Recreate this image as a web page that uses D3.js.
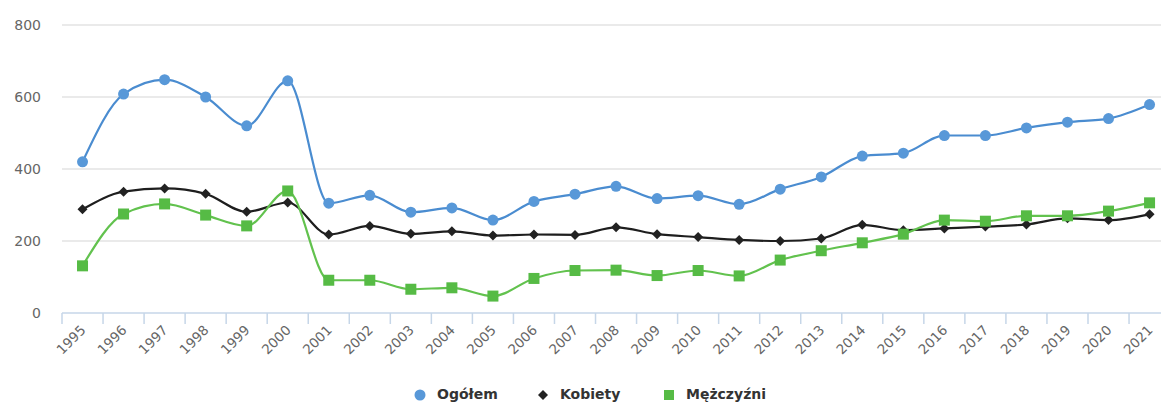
<!DOCTYPE html>
<html>
<head>
<meta charset="utf-8">
<script src="https://cdn.jsdelivr.net/npm/d3@7"></script>
<style>
  body { margin: 0; background: #fff; }
  text { font-family: "DejaVu Sans", sans-serif; }
</style>
</head>
<body>
<svg id="chart" width="1161" height="403"></svg>
<script>
var years = ["1995","1996","1997","1998","1999","2000","2001","2002","2003","2004","2005","2006","2007",
  "2008","2009","2010","2011","2012","2013","2014","2015","2016","2017","2018","2019","2020","2021"];
var ogolem = [420, 608, 648, 600, 520, 645, 305, 327, 280, 292, 258, 310, 330,
  352, 318, 326, 302, 344, 378, 436, 444, 493, 493, 514, 530, 540, 579];
var kobiety = [288, 337, 346, 331, 281, 307, 218, 242, 220, 227, 215, 218, 217,
  238, 219, 211, 203, 200, 207, 245, 230, 235, 240, 246, 263, 258, 274];
var mezczyzni = [131, 275, 303, 272, 242, 339, 91, 91, 66, 70, 47, 96, 118,
  119, 104, 118, 103, 147, 173, 195, 219, 258, 255, 270, 270, 283, 306];
var yTicks = [0, 200, 400, 600, 800];

var svg = d3.select("#chart");

var x = d3.scaleBand().domain(years).range([62, 62 + 27 * 41.04]).paddingInner(0).paddingOuter(0);
var y = d3.scaleLinear().domain([0, 800]).range([313, 25]);
function cx(d, i) { return x(years[i]) + x.bandwidth() / 2; }

// grid
svg.append("g").selectAll("line")
  .data(yTicks.filter(function(t) { return t > 0; }))
  .enter().append("line")
    .attr("x1", 62).attr("x2", 1161)
    .attr("y1", function(d) { return y(d); })
    .attr("y2", function(d) { return y(d); })
    .attr("stroke", "#e3e3e3").attr("stroke-width", 1.5);

// y labels
svg.append("g").selectAll("text")
  .data(yTicks)
  .enter().append("text")
    .attr("x", 41).attr("y", function(d) { return y(d) + 5; })
    .attr("text-anchor", "end")
    .attr("fill", "#666").attr("font-size", 14)
    .text(function(d) { return d; });

// x axis line and ticks between categories
svg.append("line")
  .attr("x1", 62).attr("x2", 1161).attr("y1", y(0)).attr("y2", y(0))
  .attr("stroke", "#c6d6e8").attr("stroke-width", 1.5);
svg.append("g").selectAll("line")
  .data(years.concat(["end"]))
  .enter().append("line")
    .attr("x1", function(d, i) { return i < years.length ? x(d) : x.range()[1]; })
    .attr("x2", function(d, i) { return i < years.length ? x(d) : x.range()[1]; })
    .attr("y1", y(0)).attr("y2", y(0) + 11)
    .attr("stroke", "#c6d6e8").attr("stroke-width", 1.5);

svg.append("g").selectAll("text")
  .data(years)
  .enter().append("text")
    .attr("transform", function(d, i) { return "translate(" + (cx(d, i) + 4) + "," + 331 + ") rotate(-45)"; })
    .attr("text-anchor", "end")
    .attr("fill", "#666").attr("font-size", 13.5)
    .text(function(d) { return d; });

var series = [
  { name: "Ogółem", values: ogolem, line: "#4a8cd0", fill: "#5898d8", marker: "circle" },
  { name: "Kobiety", values: kobiety, line: "#1e1e1e", fill: "#222", marker: "diamond" },
  { name: "Mężczyźni", values: mezczyzni, line: "#62c24e", fill: "#56bb45", marker: "square" }
];

var line = d3.line()
  .x(function(d, i) { return cx(d, i); })
  .y(function(d) { return y(d); })
  .curve(d3.curveMonotoneX);

function drawMarker(g, type, color, px, py, big) {
  if (type === "circle") {
    g.append("circle").attr("cx", px).attr("cy", py).attr("r", big ? 5.5 : 5.5)
      .attr("fill", color);
  } else if (type === "diamond") {
    var s = 5;
    g.append("path").attr("d", "M" + px + "," + (py - s) + "L" + (px + s) + "," + py + "L" + px + "," + (py + s) + "L" + (px - s) + "," + py + "Z")
      .attr("fill", color);
  } else {
    var h = big ? 5 : 5.5;
    g.append("rect").attr("x", px - h).attr("y", py - h).attr("width", 2 * h).attr("height", 2 * h)
      .attr("fill", color);
  }
}

series.forEach(function(s) {
  var g = svg.append("g");
  g.append("path").datum(s.values)
    .attr("d", line)
    .attr("fill", "none").attr("stroke", s.line).attr("stroke-width", 2.2);
  s.values.forEach(function(v, i) {
    drawMarker(g, s.marker, s.fill, cx(v, i), y(v), false);
  });
});

// legend
var legendX = [420, 543, 669];
series.forEach(function(s, i) {
  var g = svg.append("g");
  drawMarker(g, s.marker, s.fill, legendX[i], 395, true);
  g.append("text").attr("x", legendX[i] + 17).attr("y", 399)
    .attr("font-size", 14).attr("font-weight", "bold").attr("fill", "#333")
    .text(s.name);
});
</script>
</body>
</html>
